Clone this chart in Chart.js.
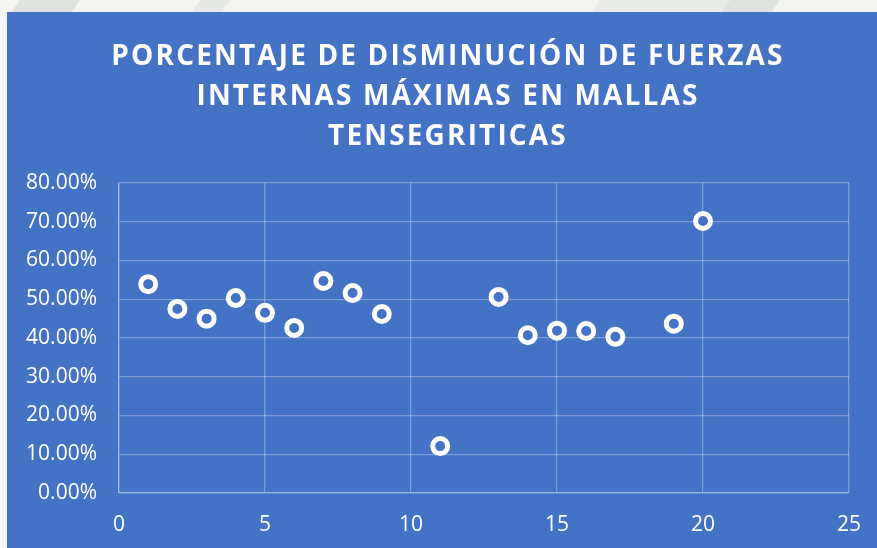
<!DOCTYPE html>
<html>
<head>
<meta charset="utf-8">
<script src="https://cdn.jsdelivr.net/npm/chart.js@4.4.1/dist/chart.umd.min.js"></script>
<style>
  html, body { margin: 0; padding: 0; }
  body { width: 877px; height: 548px; background: #f4f5f3; position: relative; overflow: hidden; }
  .mark { position: absolute; top: -20px; height: 40px; background: #dfe3dd; transform: skewX(-35deg); }
  #panel { position: absolute; left: 7px; top: 12px; width: 870px; height: 536px; background: #4472C4; }
  #title {
    position: absolute; left: 6px; width: 870px; top: 22px;
    text-align: center; color: #ffffff;
    font-family: "Open Sans", sans-serif; font-weight: 700; font-size: 28px;
    line-height: 40px; letter-spacing: 2.15px;
  }
  #chart { position: absolute; left: 0; top: 0; }
</style>
</head>
<body>
<div class="mark" style="left:20px;width:60px;"></div>
<div class="mark" style="left:200px;width:30px;background:#e6e9e4;"></div>
<div class="mark" style="left:600px;width:160px;background:#e9ece8;"></div>
<div class="mark" style="left:730px;width:50px;"></div>
<div id="panel">
  <canvas id="chart" width="870" height="536"></canvas>
  <div id="title">PORCENTAJE DE DISMINUCIÓN DE FUERZAS<br>INTERNAS MÁXIMAS EN MALLAS<br>TENSEGRITICAS</div>
</div>
<script>
// Element number (x) and percentage reduction of maximum internal forces (y)
const elementos = [1, 2, 3, 4, 5, 6, 7, 8, 9, 11, 13, 14, 15, 16, 17, 19, 20];
const disminucion = [0.539, 0.475, 0.450, 0.503, 0.465, 0.426, 0.547, 0.516, 0.462,
                     0.121, 0.506, 0.407, 0.419, 0.418, 0.403, 0.437, 0.702];
const xTicks = [0, 5, 10, 15, 20, 25];
const yTicks = [0, 0.1, 0.2, 0.3, 0.4, 0.5, 0.6, 0.7, 0.8];

const panelBlue = '#4472C4';
const gridColor = 'rgba(255,255,255,0.3)';
const tickFont = { family: '"Open Sans", sans-serif', size: 21 };

const puntos = elementos.map((x, i) => ({ x: x, y: disminucion[i] }));

new Chart(document.getElementById('chart'), {
  type: 'scatter',
  data: {
    datasets: [{
      data: puntos,
      pointRadius: 7.5,
      pointHoverRadius: 7.5,
      pointBorderWidth: 5,
      pointBorderColor: '#ffffff',
      pointBackgroundColor: panelBlue
    }]
  },
  options: {
    responsive: false,
    animation: false,
    layout: { padding: { top: 171, right: 28, bottom: 0, left: 0 } },
    plugins: { legend: { display: false }, title: { display: false }, tooltip: { enabled: false } },
    scales: {
      x: {
        type: 'linear',
        min: xTicks[0],
        max: xTicks[xTicks.length - 1],
        afterBuildTicks: s => { s.ticks = xTicks.map(v => ({ value: v })); },
        afterFit: s => { s.height = 55; s.paddingLeft = 0; s.paddingRight = 0; },
        grid: { color: gridColor, lineWidth: 1.3, drawTicks: false },
        border: { color: gridColor, width: 1.3 },
        ticks: { color: '#ffffff', font: tickFont, padding: 19 }
      },
      y: {
        type: 'linear',
        min: yTicks[0],
        max: yTicks[yTicks.length - 1],
        afterBuildTicks: s => { s.ticks = yTicks.map(v => ({ value: v })); },
        afterFit: s => { s.width = 112; },
        grid: { color: gridColor, lineWidth: 1.3, drawTicks: false },
        border: { color: gridColor, width: 1.3 },
        ticks: {
          color: '#ffffff', font: tickFont, padding: 22,
          callback: v => (v * 100).toFixed(2) + '%'
        }
      }
    }
  }
});
</script>
</body>
</html>
